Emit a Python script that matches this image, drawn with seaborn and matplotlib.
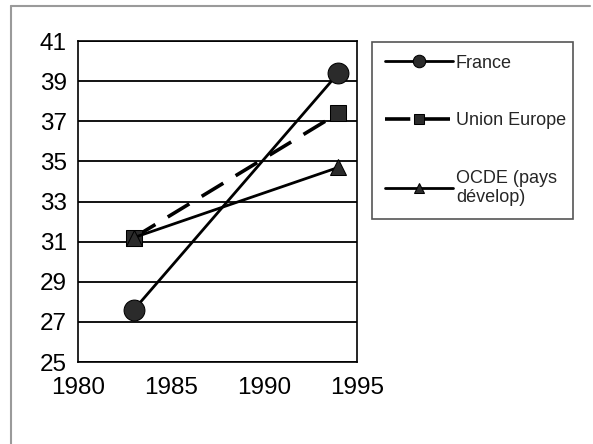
import matplotlib
matplotlib.use("Agg")
import matplotlib.pyplot as plt
from matplotlib.lines import Line2D
import seaborn as sns
import pandas as pd

years = [1983, 1994]
france = [27.6, 39.4]
union_europe = [31.2, 37.4]
ocde = [31.2, 34.7]
labels = ["France", "Union Europe", "OCDE (pays\ndévelop)"]
yticks = list(range(25, 42, 2))
xticks = [1980, 1985, 1990, 1995]

sns.set_style("white")
plt.rcParams['font.family'] = ['Liberation Sans', 'DejaVu Sans']

fig = plt.figure(figsize=(5.93, 4.44), dpi=100)
ax = fig.add_axes([78/593, 1 - 362/444, (357 - 78)/593, (362 - 41)/444])

dfrm = pd.DataFrame({'year': years, 'France': france,
                     'Union': union_europe, 'OCDE': ocde})
fill = '#2b2b2b'
sns.lineplot(data=dfrm, x='year', y='France', ax=ax, color='black', lw=2.0,
             marker='o', markersize=15, markerfacecolor=fill,
             markeredgecolor='black', label=labels[0], zorder=4)
sns.lineplot(data=dfrm, x='year', y='Union', ax=ax, color='black', lw=2.6,
             dashes=(7, 4), marker='s', markersize=11.5, markerfacecolor=fill,
             markeredgecolor='black', label=labels[1], zorder=3)
sns.lineplot(data=dfrm, x='year', y='OCDE', ax=ax, color='black', lw=2.0,
             marker='^', markersize=11.5, markerfacecolor=fill,
             markeredgecolor='black', label=labels[2], zorder=3)

ax.set_xlim(1980, 1995)
ax.set_ylim(25, 41)
ax.set_xticks(xticks)
ax.set_yticks(yticks)
ax.set_xlabel('')
ax.set_ylabel('')
ax.grid(axis='y', color='black', lw=1.3)
ax.set_axisbelow(True)
for sp in ax.spines.values():
    sp.set_visible(True)
    sp.set_color('black')
    sp.set_linewidth(1.2)
ax.tick_params(axis='both', direction='out', length=5, width=1,
               color='black', labelsize=17.5, labelcolor='black')
ax.tick_params(axis='y', pad=3)
ax.tick_params(axis='x', pad=6)

# legend in its own box to the right of the plot
ax.legend_.remove()
handles, lbls = ax.get_legend_handles_labels()
leg = fig.legend(handles, lbls, loc='upper left',
                 bbox_to_anchor=(372/593, 1 - 42/444, (573 - 372)/593, 0),
                 mode='expand', fontsize=13, handlelength=3.8,
                 handletextpad=0.15, labelspacing=2.25, borderpad=0.7,
                 borderaxespad=0, markerscale=0.6, fancybox=False,
                 framealpha=1, edgecolor='#555555')
leg.get_frame().set_linewidth(1.2)

# outer chart border (only left/top survive in the scan)
border = '#9a9a9a'
fig.add_artist(Line2D([11/593, 11/593], [0, 1 - 6/444], color=border, lw=1.5))
fig.add_artist(Line2D([11/593, 590/593], [1 - 6/444, 1 - 6/444], color=border, lw=1.5))

fig.savefig('out.png', dpi=100)
